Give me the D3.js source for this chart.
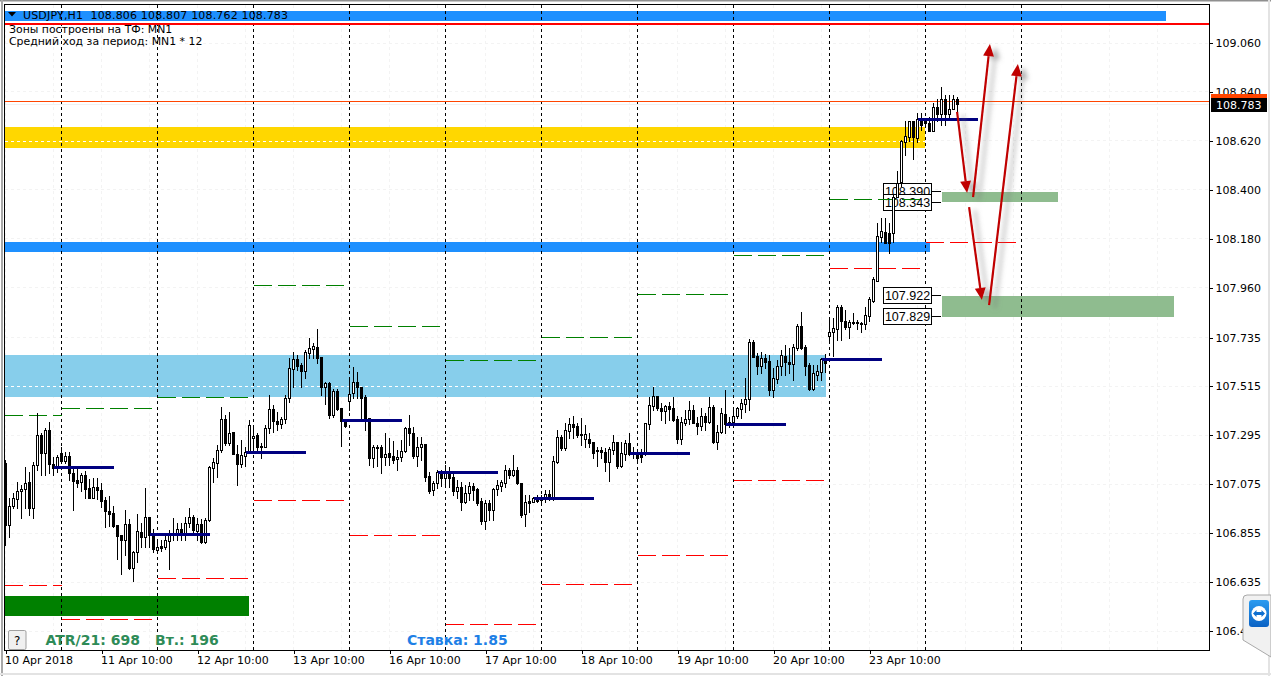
<!DOCTYPE html>
<html><head><meta charset="utf-8">
<script src="https://cdn.jsdelivr.net/npm/d3@7"></script>
<style>html,body{margin:0;padding:0;background:#fff;overflow:hidden}svg{display:block}text{font-family:"DejaVu Sans",sans-serif}</style>
</head><body><div id="chart"></div>
<script>
const open_=[107.170,106.891,106.977,107.008,107.044,107.053,107.084,106.968,107.161,107.296,
107.215,107.319,107.165,107.147,107.215,107.179,107.201,107.125,107.094,107.084,
107.116,107.057,107.012,107.062,107.049,107.004,106.954,106.945,106.891,106.846,
106.824,106.896,106.697,106.769,106.859,106.837,106.927,106.846,106.779,106.796,
106.792,106.819,106.850,106.850,106.873,106.855,106.900,106.927,106.864,106.896,
106.815,106.914,107.147,107.170,107.229,107.368,107.260,107.309,107.210,107.165,
107.201,107.219,107.282,107.296,107.246,107.242,107.327,107.413,107.359,107.345,
107.368,107.463,107.593,107.638,107.611,107.584,107.665,107.683,107.692,107.647,
107.512,107.530,107.386,107.494,107.417,107.368,107.449,107.485,107.534,107.512,
107.467,107.372,107.192,107.242,107.242,107.197,107.215,107.201,107.188,107.197,
107.224,107.327,107.305,107.201,107.242,107.255,107.111,107.049,107.080,107.129,
107.102,107.125,107.107,107.044,107.062,106.995,107.035,107.066,107.053,106.999,
106.909,106.990,106.959,107.053,107.066,107.080,107.139,107.116,107.139,107.080,
106.941,106.999,106.995,107.012,107.012,107.008,107.030,107.012,107.174,107.287,
107.237,107.314,107.345,107.336,107.300,107.278,107.278,107.264,107.229,107.229,
107.219,107.174,107.229,107.264,107.156,107.210,107.260,107.219,107.215,107.210,
107.210,107.345,107.426,107.471,107.417,107.404,107.426,107.417,107.368,107.278,
107.350,107.368,107.409,107.350,107.336,107.381,107.354,107.422,107.264,107.309,
107.390,107.341,107.354,107.381,107.413,107.436,107.458,107.714,107.651,107.606,
107.642,107.629,107.499,107.548,107.606,107.651,107.624,107.615,107.687,107.786,
107.692,107.611,107.503,107.566,107.579,107.638,107.741,107.759,107.769,107.872,
107.809,107.782,107.804,107.804,107.800,107.795,107.831,107.899,107.989,108.187,
108.209,108.205,108.205,108.367,108.434,108.614,108.637,108.709,108.632,108.718,
108.705,108.700,108.660,108.768,108.740,108.804,108.740,108.763,108.804];
const high=[107.183,107.012,107.035,107.084,107.071,107.152,107.129,107.174,107.395,107.305,
107.327,107.354,107.197,107.206,107.242,107.219,107.219,107.147,107.143,107.125,
107.134,107.098,107.102,107.102,107.080,107.017,107.021,106.977,106.891,106.846,
106.959,106.918,106.774,106.941,106.900,107.057,106.927,106.873,106.815,106.824,
106.846,106.869,106.923,106.900,106.900,106.927,106.968,106.936,106.923,106.918,
106.923,107.156,107.192,107.251,107.422,107.386,107.399,107.309,107.251,107.273,
107.242,107.364,107.341,107.305,107.260,107.341,107.476,107.431,107.399,107.377,
107.476,107.642,107.670,107.656,107.620,107.679,107.733,107.710,107.769,107.647,
107.534,107.534,107.503,107.503,107.417,107.368,107.544,107.602,107.579,107.512,
107.476,107.372,107.251,107.251,107.251,107.305,107.282,107.269,107.229,107.273,
107.332,107.386,107.332,107.287,107.287,107.255,107.129,107.089,107.139,107.139,
107.161,107.152,107.129,107.094,107.084,107.071,107.084,107.080,107.057,107.012,
107.004,107.004,107.057,107.094,107.094,107.161,107.147,107.206,107.152,107.080,
107.026,107.026,107.017,107.026,107.026,107.049,107.049,107.201,107.319,107.296,
107.350,107.372,107.381,107.350,107.372,107.341,107.305,107.264,107.242,107.242,
107.237,107.242,107.296,107.264,107.264,107.273,107.305,107.242,107.233,107.233,
107.350,107.467,107.512,107.471,107.440,107.431,107.444,107.467,107.381,107.377,
107.409,107.449,107.431,107.377,107.417,107.395,107.467,107.431,107.341,107.417,
107.499,107.377,107.422,107.422,107.458,107.552,107.728,107.723,107.665,107.670,
107.660,107.656,107.597,107.633,107.679,107.701,107.687,107.705,107.795,107.849,
107.701,107.620,107.611,107.611,107.642,107.660,107.813,107.822,107.881,107.881,
107.858,107.813,107.845,107.813,107.804,107.872,107.917,108.007,108.250,108.272,
108.272,108.250,108.376,108.480,108.623,108.705,108.709,108.709,108.745,108.745,
108.722,108.727,108.786,108.804,108.862,108.826,108.826,108.826,108.813];
const low=[106.801,106.837,106.968,106.968,106.923,106.968,106.936,106.923,107.139,107.116,
107.116,107.125,107.116,107.129,107.170,107.170,107.094,106.959,107.062,107.044,
107.012,107.012,107.012,107.008,106.972,106.882,106.887,106.882,106.738,106.670,
106.756,106.693,106.639,106.724,106.792,106.792,106.792,106.769,106.769,106.774,
106.783,106.693,106.824,106.824,106.824,106.824,106.882,106.846,106.824,106.810,
106.810,106.909,107.084,107.107,107.219,107.251,107.251,107.210,107.071,107.152,
107.156,107.215,107.229,107.229,107.192,107.242,107.305,107.309,107.319,107.327,
107.350,107.444,107.512,107.589,107.512,107.552,107.642,107.642,107.620,107.476,
107.436,107.372,107.377,107.409,107.246,107.332,107.409,107.463,107.463,107.372,
107.319,107.161,107.152,107.156,107.125,107.161,107.161,107.170,107.139,107.179,
107.219,107.251,107.192,107.156,107.184,107.089,107.035,107.026,107.057,107.066,
107.062,107.062,107.026,107.012,106.959,106.990,107.004,107.004,106.981,106.896,
106.873,106.914,106.914,107.026,107.044,107.062,107.102,107.111,107.075,106.927,
106.887,106.950,106.995,106.995,106.995,106.995,107.004,107.004,107.170,107.229,
107.229,107.282,107.282,107.287,107.251,107.242,107.242,107.192,107.156,107.192,
107.134,107.089,107.210,107.147,107.152,107.184,107.206,107.192,107.170,107.174,
107.206,107.323,107.409,107.409,107.364,107.350,107.364,107.359,107.260,107.255,
107.341,107.345,107.350,107.300,107.319,107.319,107.350,107.260,107.233,107.305,
107.305,107.332,107.341,107.372,107.372,107.399,107.409,107.647,107.570,107.575,
107.597,107.476,107.467,107.530,107.566,107.566,107.575,107.544,107.679,107.683,
107.566,107.499,107.499,107.544,107.544,107.579,107.710,107.651,107.723,107.723,
107.769,107.733,107.795,107.769,107.759,107.769,107.809,107.894,107.989,108.164,
108.160,108.115,108.164,108.367,108.416,108.556,108.619,108.538,108.614,108.668,
108.691,108.660,108.660,108.705,108.691,108.691,108.722,108.759,108.749];
const close_=[106.891,106.977,107.012,107.044,107.053,107.080,106.968,107.161,107.296,107.215,
107.319,107.165,107.147,107.197,107.179,107.201,107.125,107.089,107.080,107.116,
107.053,107.012,107.062,107.049,106.999,106.954,106.941,106.887,106.842,106.824,
106.896,106.697,106.769,106.864,106.837,106.927,106.846,106.783,106.792,106.787,
106.824,106.846,106.846,106.873,106.850,106.900,106.927,106.869,106.896,106.815,
106.914,107.152,107.174,107.229,107.368,107.260,107.305,107.210,107.165,107.206,
107.219,107.341,107.291,107.242,107.242,107.327,107.413,107.359,107.345,107.368,
107.463,107.597,107.638,107.606,107.584,107.670,107.687,107.696,107.642,107.512,
107.530,107.386,107.494,107.413,107.359,107.336,107.480,107.534,107.512,107.463,
107.372,107.192,107.242,107.237,107.197,107.210,107.197,107.184,107.197,107.224,
107.327,107.305,107.201,107.242,107.255,107.107,107.044,107.080,107.129,107.102,
107.125,107.102,107.044,107.062,106.995,107.035,107.066,107.049,106.990,106.909,
106.990,106.959,107.053,107.071,107.084,107.139,107.116,107.139,107.080,106.936,
106.995,106.990,107.012,106.999,107.004,107.030,107.012,107.179,107.287,107.237,
107.319,107.345,107.332,107.296,107.296,107.300,107.260,107.215,107.224,107.219,
107.174,107.233,107.264,107.156,107.215,107.260,107.210,107.210,107.192,107.197,
107.350,107.431,107.471,107.417,107.404,107.426,107.413,107.364,107.278,107.354,
107.368,107.409,107.350,107.336,107.381,107.354,107.422,107.264,107.309,107.395,
107.345,107.354,107.381,107.417,107.440,107.458,107.714,107.647,107.606,107.642,
107.624,107.499,107.552,107.606,107.656,107.624,107.615,107.692,107.786,107.687,
107.606,107.503,107.575,107.584,107.638,107.620,107.759,107.777,107.872,107.809,
107.782,107.804,107.800,107.800,107.795,107.836,107.908,107.994,108.191,108.214,
108.160,108.160,108.367,108.430,108.619,108.641,108.705,108.637,108.718,108.691,
108.696,108.664,108.768,108.740,108.804,108.740,108.763,108.804,108.783];

const priceTicks=[109.060,108.840,108.620,108.400,108.180,107.960,107.735,107.515,107.295,107.075,106.855,106.635,106.415];
const timeTickBars=[0,24,48,72,96,120,144,168,192,216];
const timeTickLabels=["10 Apr 2018","11 Apr 10:00","12 Apr 10:00","13 Apr 10:00","16 Apr 10:00","17 Apr 10:00","18 Apr 10:00","19 Apr 10:00","20 Apr 10:00","23 Apr 10:00"];
const daySeparatorBars=[14,38,62,86,110,134,158,182,206,230,254];

const zoneNames=["supplyTop","gold","resistance","sky","demandLow","target1","target2"];
const zoneHigh=[109.204,108.682,108.164,107.656,106.571,108.390,107.922];
const zoneLow=[109.159,108.588,108.119,107.467,106.481,108.343,107.829];
const zoneStart=[-0.125,-0.125,-0.125,-0.125,-0.125,234,234];
const zoneEnd=[290,230,231,205,61,263,292];
const zoneColor=["#1e90ff","#ffd700","#1e90ff","#87ceeb","#008000","#8fbc8f","#8fbc8f"];
const zoneMidPrice=[108.619,107.514];
const zoneMidEnd=[230,205];

const pivotBars=[12,36,60,84,108,132,156,180,204,228];
const pivotPrices=[107.152,106.850,107.219,107.364,107.129,107.012,107.215,107.345,107.638,108.718];
const pivotLength=15;

const upperBars=[-0.125,14,38,62,86,110,134,158,182,206];
const upperEnd=[14,36.5,60.5,84.5,108.5,132.5,156.5,180.5,204.5,228.5];
const upperPrices=[107.386,107.417,107.465,107.971,107.786,107.634,107.737,107.930,108.106,108.354];
const lowerBars=[-0.125,14,38,62,86,110,134,158,182,206,230];
const lowerEnd=[14,36.5,60.5,84.5,108.5,132.5,156.5,180.5,204.5,228.5,252.5];
const lowerPrices=[106.621,106.468,106.653,107.004,106.846,106.446,106.626,106.756,107.094,108.047,108.164];

const arrowBarFrom=[237.9,241.9,240.9,245.9];
const arrowPriceFrom=[108.750,108.367,108.322,107.881];
const arrowBarTo=[240.4,246.1,244.1,253.1];
const arrowPriceTo=[108.385,109.055,107.904,108.965];

const levelLabels=[108.390,108.343,107.922,107.829];
const redLinePrice=109.1455;
const askPrice=108.798;
const lastPrice=108.783;
const headerText="USDJPY,H1  108.806 108.807 108.762 108.783";
const infoLines=["Зоны построены на ТФ: MN1","Средний ход за период: MN1 * 12"];
const atrText="ATR/21: 698";
const volText="Вт.: 196";
const rateText="Ставка: 1.85";

const W=1271,H=676,L=4.5,R=1209.5,T=4.5,B=650.5;
const x=d3.scaleLinear().domain([0,254]).range([5.5,1021.5]);
const y=d3.scaleLinear().domain([106.415,109.06]).range([631,43]);
const py=v=>Math.round(y(v)-0.5)+0.5;

const svg=d3.select("#chart").append("svg").attr("width",W).attr("height",H).attr("viewBox",`0 0 ${W} ${H}`);
const defs=svg.append("defs");
defs.append("clipPath").attr("id","plot").append("rect").attr("x",L).attr("y",T).attr("width",R-L).attr("height",B-T);
defs.append("filter").attr("id","sh").attr("x","-60%").attr("y","-20%").attr("width","300%").attr("height","140%")
  .append("feDropShadow").attr("dx",6).attr("dy",3).attr("stdDeviation",2.6).attr("flood-color","#777").attr("flood-opacity",0.6);
const tv=defs.append("linearGradient").attr("id","tv").attr("x1",0).attr("y1",0).attr("x2",0).attr("y2",1);
tv.append("stop").attr("offset",0).attr("stop-color","#2a9bf0");
tv.append("stop").attr("offset",1).attr("stop-color","#0b62c4");

// window chrome
svg.append("rect").attr("width",W).attr("height",H).attr("fill","#fff");
svg.append("rect").attr("x",0).attr("y",0).attr("width",W).attr("height",1.5).attr("fill","#8f8f8f");
svg.append("rect").attr("x",1).attr("y",0).attr("width",2).attr("height",H).attr("fill","#a8a8a8");
svg.append("rect").attr("x",0).attr("y",673).attr("width",W).attr("height",2).attr("fill","#e3e3e3");
svg.append("rect").attr("x",1268).attr("y",0).attr("width",2).attr("height",H).attr("fill","#e3e3e3");

const plot=svg.append("g").attr("clip-path","url(#plot)").attr("shape-rendering","crispEdges");

// faint grid
const gridBars=d3.range(0,300,12);
plot.append("g").selectAll("line").data(gridBars).join("line")
  .attr("x1",d=>x(d)).attr("x2",d=>x(d)).attr("y1",T).attr("y2",B)
  .attr("stroke","#f3f3f3").attr("stroke-dasharray","3,3");
plot.append("g").selectAll("line").data(priceTicks).join("line")
  .attr("x1",L).attr("x2",R).attr("y1",d=>py(d)).attr("y2",d=>py(d))
  .attr("stroke","#f3f3f3").attr("stroke-dasharray","3,3");

// zones
plot.append("g").selectAll("rect").data(zoneNames).join("rect")
  .attr("x",(d,i)=>Math.round(x(zoneStart[i])))
  .attr("width",(d,i)=>Math.round(x(zoneEnd[i]))-Math.round(x(zoneStart[i])))
  .attr("y",(d,i)=>Math.round(y(zoneHigh[i])))
  .attr("height",(d,i)=>Math.round(y(zoneLow[i]))-Math.round(y(zoneHigh[i])))
  .attr("fill",(d,i)=>zoneColor[i]);
plot.append("g").selectAll("line").data(zoneMidPrice).join("line")
  .attr("x1",5).attr("x2",(d,i)=>x(zoneMidEnd[i])).attr("y1",d=>py(d)).attr("y2",d=>py(d))
  .attr("stroke","#fff").attr("stroke-dasharray","3,3");

// day separators
plot.append("g").selectAll("line").data(daySeparatorBars).join("line")
  .attr("x1",d=>x(d)).attr("x2",d=>x(d)).attr("y1",T).attr("y2",B)
  .attr("stroke","#000").attr("stroke-dasharray","3,3");

// last price lines
plot.append("line").attr("x1",L).attr("x2",R).attr("y1",py(lastPrice)).attr("y2",py(lastPrice)).attr("stroke","#f1f1f1");
plot.append("line").attr("x1",L).attr("x2",R).attr("y1",py(askPrice)).attr("y2",py(askPrice)).attr("stroke","#ff4500");
plot.append("line").attr("x1",L).attr("x2",R).attr("y1",Math.round(y(redLinePrice))).attr("y2",Math.round(y(redLinePrice))).attr("stroke","#f00").attr("stroke-width",2);

// level labels
const lab=svg.append("g").attr("clip-path","url(#plot)");
levelLabels.forEach(v=>{
  const yy=py(v);
  lab.append("line").attr("x1",932).attr("x2",941).attr("y1",yy).attr("y2",yy).attr("stroke","#000").attr("shape-rendering","crispEdges");
  lab.append("rect").attr("x",883.5).attr("y",yy-8).attr("width",48).attr("height",16).attr("fill","#fff").attr("stroke","#000").attr("stroke-width",1.2).attr("shape-rendering","crispEdges");
  lab.append("text").attr("x",907.5).attr("y",yy+4.5).attr("text-anchor","middle").attr("fill","#000")
    .style("font-family","'Liberation Sans',sans-serif").style("font-size","12.5px").text(v.toFixed(3));
});

// target dashes
const dashes=svg.append("g").attr("clip-path","url(#plot)").attr("shape-rendering","crispEdges");
dashes.append("g").selectAll("line").data(upperPrices).join("line")
  .attr("x1",(d,i)=>x(upperBars[i])).attr("x2",(d,i)=>x(upperEnd[i])).attr("y1",d=>py(d)).attr("y2",d=>py(d))
  .attr("stroke","#008000").attr("stroke-dasharray","18,6");
dashes.append("g").selectAll("line").data(lowerPrices).join("line")
  .attr("x1",(d,i)=>x(lowerBars[i])).attr("x2",(d,i)=>x(lowerEnd[i])).attr("y1",d=>py(d)).attr("y2",d=>py(d))
  .attr("stroke","#f00").attr("stroke-dasharray","18,6");

// candles
const candles=svg.append("g").attr("clip-path","url(#plot)").attr("shape-rendering","crispEdges");
const idx=d3.range(open_.length);
candles.selectAll("line").data(idx).join("line")
  .attr("x1",i=>x(i)).attr("x2",i=>x(i)).attr("y1",i=>py(high[i])-0.5).attr("y2",i=>py(low[i])+0.5).attr("stroke","#000");
candles.selectAll("rect").data(idx).join("rect")
  .attr("x",i=>x(i)-1).attr("width",2)
  .attr("y",i=>py(Math.max(open_[i],close_[i])))
  .attr("height",i=>Math.max(py(Math.min(open_[i],close_[i]))-py(Math.max(open_[i],close_[i])),1))
  .attr("fill",i=>close_[i]>open_[i]?"#fff":"#000").attr("stroke","#000");

// pivots
svg.append("g").attr("shape-rendering","crispEdges").selectAll("line").data(pivotPrices).join("line")
  .attr("x1",(d,i)=>x(pivotBars[i])).attr("x2",(d,i)=>x(pivotBars[i]+pivotLength))
  .attr("y1",d=>py(d)).attr("y2",d=>py(d)).attr("stroke","#000080").attr("stroke-width",3);

// arrows
const arrows=svg.append("g");
arrowBarFrom.forEach((b,i)=>{
  const x0=x(b),y0=y(arrowPriceFrom[i]),x1=x(arrowBarTo[i]),y1=y(arrowPriceTo[i]);
  const dx=x1-x0,dy=y1-y0,len=Math.hypot(dx,dy),ux=dx/len,uy=dy/len,hl=12,hw=5.5;
  const bx=x1-ux*hl,by=y1-uy*hl;
  const g=arrows.append("g").attr("filter","url(#sh)");
  g.append("line").attr("x1",x0).attr("y1",y0).attr("x2",bx).attr("y2",by).attr("stroke","#c00000").attr("stroke-width",2.2);
  g.append("polygon").attr("points",[[x1,y1],[bx-uy*hw,by+ux*hw],[bx+uy*hw,by-ux*hw]].join(" ")).attr("fill","#c00000");
});

// axes
const yAxis=d3.axisRight(y).tickValues(priceTicks).tickFormat(d3.format(".3f")).tickSize(3).tickPadding(3);
const ga=svg.append("g").attr("transform",`translate(${R},0)`).call(yAxis);
ga.select(".domain").remove();
ga.selectAll("line").attr("stroke","#000").attr("shape-rendering","crispEdges");
ga.selectAll("text").attr("fill","#000").style("font-size","11px");
const xAxis=d3.axisBottom(x).tickValues(timeTickBars).tickFormat((d,i)=>timeTickLabels[i]).tickSize(3).tickPadding(3);
const gb=svg.append("g").attr("transform",`translate(0,${B})`).call(xAxis);
gb.select(".domain").remove();
gb.selectAll("line").attr("stroke","#000").attr("shape-rendering","crispEdges");
gb.selectAll("text").attr("fill","#000").attr("text-anchor","start").attr("dx",-1).style("font-size","11px");

// frame
svg.append("rect").attr("x",L).attr("y",T).attr("width",R-L).attr("height",B-T).attr("fill","none").attr("stroke","#000").attr("stroke-width",1).attr("shape-rendering","crispEdges");

// last price tag
svg.append("rect").attr("x",1211).attr("y",94).attr("width",56).attr("height",4).attr("fill","#ff4500");
svg.append("rect").attr("x",1211).attr("y",98).attr("width",56).attr("height",14).attr("fill","#000");
svg.append("text").attr("x",1216).attr("y",109).attr("fill","#fff").style("font-size","11px").text(lastPrice.toFixed(3));

// header
svg.append("path").attr("d","M8,12 L16,12 L12,16.5 Z").attr("fill","#000");
svg.append("text").attr("x",23).attr("y",19).attr("fill","#000").style("white-space","pre").style("font-size","11px").style("letter-spacing","0.17px").text(headerText);
infoLines.forEach((t,i)=>svg.append("text").attr("x",9).attr("y",33+i*11.5).attr("fill","#000").style("font-size","10.9px").text(t));

// status texts
const st=(tx,xx,c)=>svg.append("text").attr("x",xx).attr("y",644.5).attr("fill",c).style("font-weight","bold").style("font-size","14px").text(tx);
st(atrText,45.5,"#2e8b57");st(volText,155,"#2e8b57");st(rateText,407,"#1e80e6");

// help button
svg.append("rect").attr("x",8.5).attr("y",630.5).attr("width",17.5).attr("height",19).attr("rx",1.5).attr("fill","#f0f0f0").attr("stroke","#a0a0a0");
svg.append("text").attr("x",17.2).attr("y",645).attr("text-anchor","middle").attr("fill","#000").style("font-size","12px").text("?");

// remote-support tab
svg.append("path").attr("d","M1271,595 L1247,595 Q1243,595 1243,599 L1243,640 L1271,657 Z").attr("fill","#f1f1f1").attr("stroke","#a9a9a9");
svg.append("rect").attr("x",1249).attr("y",600).attr("width",20).attr("height",27).attr("rx",3).attr("fill","url(#tv)");
svg.append("circle").attr("cx",1259).attr("cy",613.5).attr("r",7.5).attr("fill","#fff");
svg.append("path").attr("d","M1253,613.5 L1256.5,610 L1256.5,612 L1261.5,612 L1261.5,610 L1265,613.5 L1261.5,617 L1261.5,615 L1256.5,615 L1256.5,617 Z").attr("fill","#0e6fd0");
</script></body></html>
